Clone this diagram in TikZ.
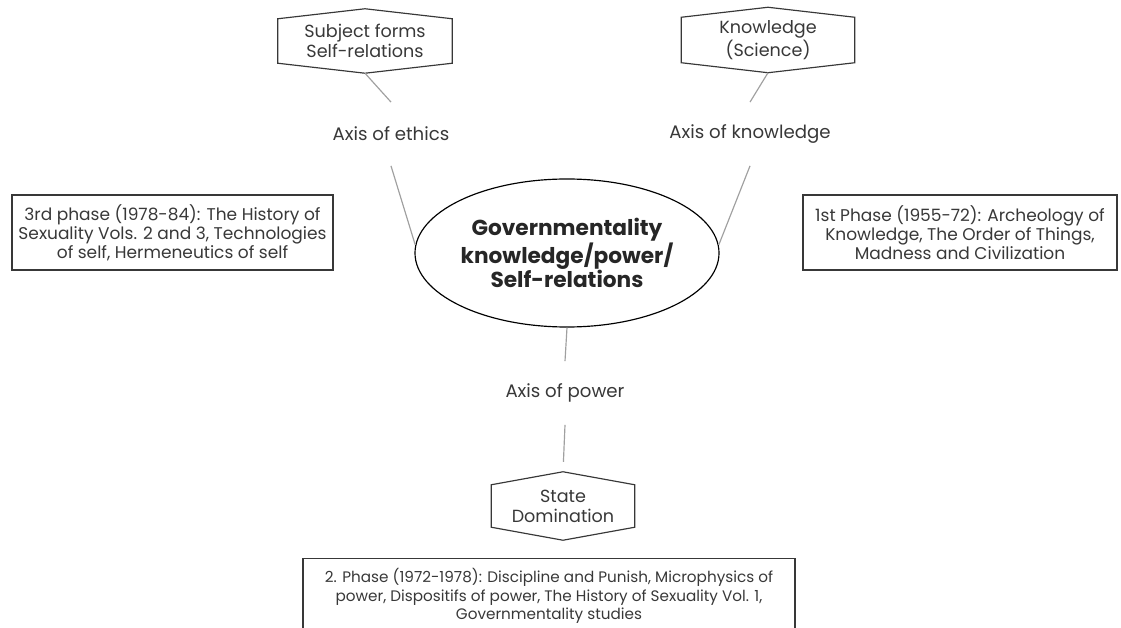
\documentclass[tikz,border=0pt]{standalone}
\usepackage{fontspec}
\setmainfont{Poppins}
\usetikzlibrary{positioning,shapes.geometric}

\definecolor{inkgray}{HTML}{383838}
\definecolor{linegray}{HTML}{A0A0A0}

% hexagonal frame around a node: name, tip height
\newcommand{\hexframe}[2]{%
  \draw[hexline] (#1.north west) -- ([yshift=#2]#1.north) coordinate (#1-top)
    -- (#1.north east) -- (#1.south east) -- ([yshift=-#2]#1.south) coordinate (#1-bot)
    -- (#1.south west) -- cycle;}

\begin{document}
\begin{tikzpicture}[x=0.03cm,y=-0.03cm,
    font=\fontsize{14.5}{16.2}\selectfont,
    hexnode/.style={text=inkgray, align=center, inner sep=0pt,
      font=\fontsize{15}{17}\selectfont},
    hexline/.style={draw=inkgray, line width=1pt, line join=miter},
    phasebox/.style={draw=inkgray, line width=1.1pt, text=inkgray, align=center,
      minimum height=2.25cm, inner sep=0pt},
    axislabel/.style={text=inkgray, inner sep=0pt, minimum height=1.9cm,
      font=\fontsize{15.5}{17}\selectfont},
    axisline/.style={draw=linegray, line width=1pt}]
    \useasboundingbox (0,0) rectangle (1121,628);

    % Central ellipse
    \node[ellipse, draw, line width=1pt, minimum width=9.12cm, minimum height=4.44cm,
      inner sep=0pt, align=center, text=black!85,
      font=\fontsize{18.5}{19.6}\selectfont\bfseries] (core) at (567,253)
      {Governmentality\\knowledge/power/\\Self-relations};

    % Hexagon nodes
    \node[hexnode, minimum width=5.22cm, minimum height=1.32cm] (subject) at (365,41)
      {Subject forms\\Self-relations};
    \hexframe{subject}{0.3cm}
    \node[hexnode, minimum width=5.19cm, minimum height=1.35cm] (science) at (768,40)
      {Knowledge\\(Science)};
    \hexframe{science}{0.3cm}
    \node[hexnode, minimum width=4.29cm, minimum height=1.26cm] (state) at (563,506)
      {State\\Domination};
    \hexframe{state}{0.39cm}

    % Axis labels
    \node[axislabel] (ethics) at (391,134) {Axis of ethics};
    \node[axislabel] (knowledge) at (750,134) {Axis of knowledge};
    \node[axislabel] (power) at (565,393) {Axis of power};

    % Axis lines
    \draw[axisline] (subject-bot) -- (ethics.north);
    \draw[axisline] (ethics.south) -- (core.177);
    \draw[axisline] (science-bot) -- (knowledge.north);
    \draw[axisline] (knowledge.south) -- (core.3);
    \draw[axisline] (core.south) -- (power.north);
    \draw[axisline, shorten >=0.3cm] (power.south) -- (state-top);

    % Phase boxes
    \node[phasebox, minimum width=9.63cm] (third) at (172.5,232.5)
      {3rd phase (1978-84): The History of\\Sexuality Vols. 2 and 3, Technologies\\of self, Hermeneutics of self};
    \node[phasebox, minimum width=9.42cm] (first) at (960,232.5)
      {1st Phase (1955-72): Archeology of\\Knowledge, The Order of Things,\\Madness and Civilization};
    \node[phasebox, minimum width=14.76cm, font=\fontsize{13}{15.8}\selectfont] (second) at (549,596)
      {2. Phase (1972-1978): Discipline and Punish, Microphysics of\\power, Dispositifs of power, The History of Sexuality Vol. 1,\\Governmentality studies};
\end{tikzpicture}
\end{document}
